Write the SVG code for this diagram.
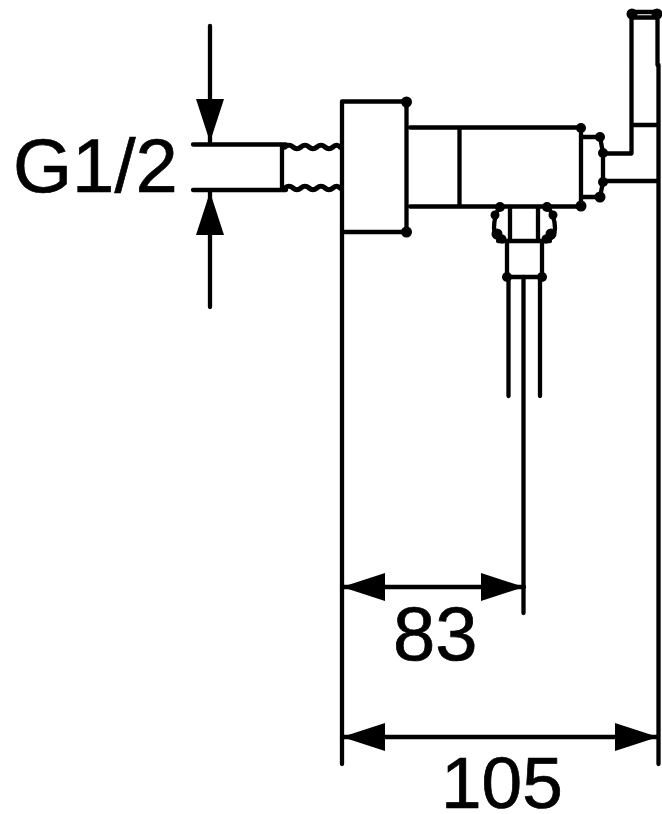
<svg xmlns="http://www.w3.org/2000/svg" width="662" height="814" viewBox="0 0 662 814">
<style>
.l{fill:none;stroke:#000;stroke-width:4.300;stroke-linecap:round;stroke-linejoin:round}
.t{font-family:"Liberation Sans",Arial,sans-serif;font-size:76px;fill:#000;stroke:#000;stroke-width:.7}
.d{fill:#000}
</style>
<defs>
<marker id="a" markerUnits="userSpaceOnUse" markerWidth="44" markerHeight="30" refX="43" refY="15" orient="auto-start-reverse"><path d="M0 1L43 15L0 29Z" fill="#000"/></marker>
</defs>
<rect width="662" height="814" fill="#fff"/>
<g id="connectors">
<path class="l" d="M210 26V142" marker-end="url(#a)"/>
<path class="l" d="M210 307V192" marker-end="url(#a)"/>
<path class="l" d="M342 587H524" marker-start="url(#a)" marker-end="url(#a)"/>
<path class="l" d="M342 737H658" marker-start="url(#a)" marker-end="url(#a)"/>
<path class="l" d="M342 232V764M658.500 65V764M523.500 277V613"/>
</g>
<g id="fitting">
<path class="l" d="M193 144.500H286M193 190H286M282 144.500V190"/>
<path class="l" style="stroke-width:5" d="M285 147q4 -3.500 8 0t8 0t8 0t8 0t8 0t8 0t7 0M285 188q4 -3.500 8 0t8 0t8 0t8 0t8 0t8 0t7 0"/>
<path class="l" d="M342 101.500H406.500V232H342Z"/>
<path class="l" d="M410 127.500H581V206.500H410M459.500 127.500V206.500"/>
<path class="l" d="M581 137H600L603 153V182L600 197H581M603 153.500H631.500V14M603 181H658M632 125H658M657.500 14V65M632 12H657M632 17.500H657"/>
<path class="l" d="M510 207V240M538 207V240M498 241H550M507 241V277H542V241M508.500 277V396M540 277V396"/>
<path class="l" d="M500 206Q494 216 494 228Q494 238 502 241M547 206Q555 216 555 228Q555 238 546 241"/>
<g class="d">
<circle cx="406.500" cy="102" r="5.500"/><circle cx="406.500" cy="232" r="5.500"/>
<circle cx="581" cy="128" r="5"/><circle cx="581" cy="206" r="5.500"/>
<circle cx="600" cy="137" r="5"/><circle cx="603" cy="153" r="5"/><circle cx="603" cy="182" r="5"/><circle cx="600" cy="197" r="5.500"/>
<circle cx="632" cy="14" r="5.500"/><circle cx="657" cy="14" r="5.500"/>
<circle cx="500" cy="207" r="5"/><circle cx="547" cy="207" r="5"/>
<circle cx="495" cy="215" r="4.500"/><circle cx="553" cy="215" r="4.500"/>
<circle cx="497" cy="234" r="5.500"/><circle cx="551" cy="234" r="5.500"/>
<circle cx="502" cy="239" r="4.500"/><circle cx="546" cy="239" r="4.500"/>
<circle cx="507" cy="277" r="5"/><circle cx="542" cy="277" r="5"/>
</g>
</g>
<g id="labels">
<text class="t" x="13" y="192">G1/2</text>
<text class="t" x="393" y="660">83</text>
<text class="t" x="441" y="808" style="font-size:73px">105</text>
</g>
</svg>
